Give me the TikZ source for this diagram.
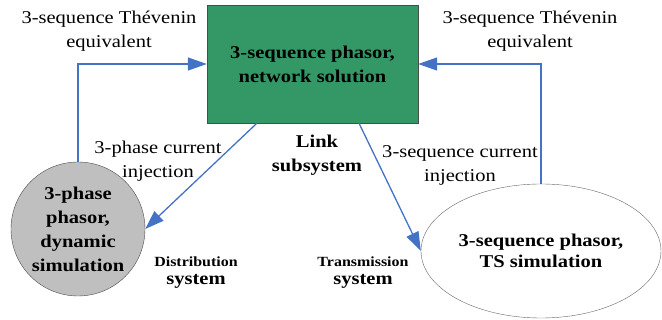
\documentclass[tikz,border=0pt]{standalone}
\usepackage{fontspec}
\setmainfont[FakeStretch=1.14]{Liberation Serif}
\usetikzlibrary{positioning, calc, arrows.meta, shapes}
\definecolor{netgreen}{RGB}{52,152,102}
\definecolor{flowblue}{RGB}{68,114,196}
\tikzset{flow/.style={draw=flowblue, line width=1.3pt, -{Triangle[length=19pt,width=13pt]}}}
\tikzset{netbox/.style={draw=black!70, fill=netgreen, minimum width=211pt, minimum height=118pt, font=\bfseries, align=center}}
\tikzset{dynsim/.style={circle, draw=black!70, fill=black!25, minimum size=134pt, inner sep=0pt, font=\bfseries, align=center}}
\tikzset{tssim/.style={ellipse, draw=black!60, minimum width=240pt, minimum height=134pt, inner sep=0pt, font=\bfseries, align=center}}
\tikzset{note/.style={align=center, inner sep=0pt}}
\tikzset{sysname/.style={align=center, inner sep=0pt, font=\bfseries\fontsize{18}{18}\selectfont}}

\begin{document}
\fontsize{18}{24}\selectfont
\begin{tikzpicture}[x=1pt, y=-1pt]
      \useasboundingbox (0,0) rectangle (662,320);

      \node[netbox] (net) at (312.5,64) {3-sequence phasor,\\network solution};
      \node[dynsim] (dyn) at (78,229) {3-phase\\phasor,\\dynamic\\simulation};
      \node[tssim] (ts) at (541,251) {3-sequence phasor,\\[-2.5pt]TS simulation};

      \node[note] (thevL) at (109,31) {3-sequence Thévenin\\equivalent};
      \node[note] (thevR) at (530,31) {3-sequence Thévenin\\equivalent};
      \node[note] (injL) at (158,161) {3-phase current\\injection};
      \node[note] (injR) at (460,165) {3-sequence current\\injection};
      \node[note, font=\bfseries] (link) [below=12pt of net, xshift=4.5pt] {Link\\subsystem};
      \node[sysname] (dist) at (196,273) {{\fontsize{14}{18}\selectfont Distribution}\\system};
      \node[sysname] (trans) at (363,273) {{\fontsize{14}{18}\selectfont Transmission}\\system};

      \draw[flow] (dyn.north) |- (net.west);
      \draw[flow] (ts.north) |- (net.east);
      \draw[flow] ($(net.south west)!0.237!(net.south east)$) -- (dyn.east);
      \draw[flow] ($(net.south west)!0.72!(net.south east)$) -- (ts.west);

    \end{tikzpicture}
\end{document}
